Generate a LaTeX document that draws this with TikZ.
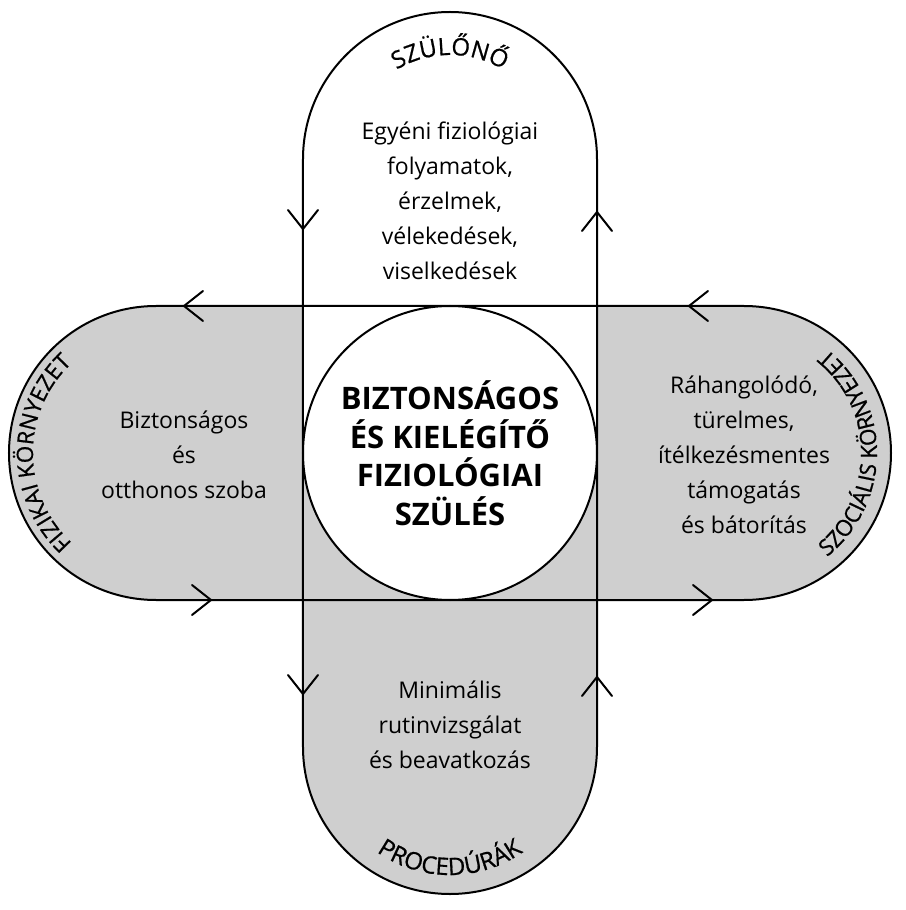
\documentclass[tikz,border=0pt]{standalone}
\usepackage{fontspec}
\setmainfont{Open Sans}
\newfontfamily\lblfam{Open Sans}[FakeBold=0.7]
\usetikzlibrary{decorations.text}
\definecolor{panelgrey}{RGB}{207,207,207}
\newcommand{\lblfont}{\lblfam\fontsize{24}{24}\selectfont}
\newcommand{\lblfontsm}{\lblfam\fontsize{22.5}{22.5}\selectfont}
\begin{document}
\begin{tikzpicture}[x=1pt,y=1pt,
  outline/.style={line width=2pt,line join=round},
  body/.style={font=\fontsize{23}{35}\selectfont,align=center,inner sep=0pt},
  core/.style={circle,draw,fill=white,line width=2pt,minimum size=294pt,inner sep=0pt,
    align=center,font=\fontsize{31}{38.5}\selectfont\bfseries},
  curved/.style={decorate,decoration={text along path,text align=center,text={#1}}},
  varrow/.pic={\draw[line width=2pt,line cap=round] (-19,15) -- (0,0) -- (-19,-15);}
]
\useasboundingbox (-450,-457) rectangle (455,453);
% fills
\fill[panelgrey] (-294,147) -- (294,147) arc (90:-90:147) -- (-294,-147) arc (270:90:147) -- cycle;
\fill[panelgrey] (-147,0) -- (147,0) -- (147,-294) arc (0:-180:147) -- cycle;
\fill[white] (-147,0) -- (-147,294) arc (180:0:147) -- (147,0) -- cycle;
% outlines
\draw[outline] (-294,147) -- (294,147) arc (90:-90:147) -- (-294,-147) arc (270:90:147) -- cycle;
\draw[outline] (-147,294) arc (180:0:147) -- (147,-294) arc (0:-180:147) -- cycle;
% centre
\node[core] (birth) at (0,0) {BIZTONSÁGOS\\ÉS KIELÉGÍTŐ\\FIZIOLÓGIAI\\SZÜLÉS};
% arrowheads
\pic[rotate=-90] at (-147,224) {varrow};
\pic[rotate=90] at (147,241) {varrow};
\pic[rotate=180] at (-266,147) {varrow};
\pic[rotate=180] at (239,147) {varrow};
\pic at (-239,-147) {varrow};
\pic at (262,-147) {varrow};
\pic[rotate=-90] at (-147,-241) {varrow};
\pic[rotate=90] at (147,-224) {varrow};
% texts
\node[body] (parent) at (0,252) {Egyéni fiziológiai\\folyamatok,\\érzelmek,\\vélekedések,\\viselkedések};
\node[body] (phys) at (-266,-2) {Biztonságos\\és\\otthonos szoba};
\node[body] (social) at (294,-2) {Ráhangolódó,\\türelmes,\\ítélkezésmentes\\támogatás\\és bátorítás};
\node[body] (proc) at (0,-272) {Minimális\\rutinvizsgálat\\és beavatkozás};
% curved labels
\path[curved={|\lblfont|SZÜLŐNŐ}] ([shift={(0,294)}]160:104) arc (160:20:104);
\path[curved={|\lblfontsm|FIZIKAI KÖRNYEZET}] ([shift={(-294,0)}]240:123) arc (240:120:123);
\path[curved={|\lblfontsm|SZOCIÁLIS KÖRNYEZET}] ([shift={(294,0)}]-60:133) arc (-60:60:133);
\path[curved={|\lblfont|PROCEDÚRÁK}] ([shift={(0,-294)}]200:128) arc (200:340:128);
\end{tikzpicture}
\end{document}
